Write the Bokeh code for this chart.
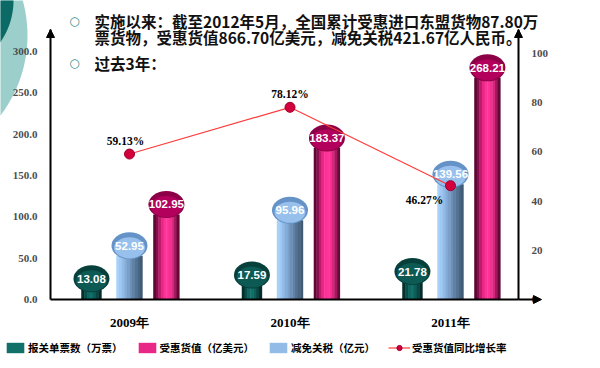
import numpy as np
from bokeh.plotting import figure
from bokeh.models import (Range1d, LinearAxis, FixedTicker, NumeralTickFormatter, Legend,
                          LegendItem, Label, Arrow, NormalHead, PolyAnnotation)
from bokeh.core.properties import value
from bokeh.embed import file_html
from bokeh.resources import INLINE

# ---------------- data ----------------
years = ["2009年", "2010年", "2011年"]
declarations = [13.08, 17.59, 21.78]        # 报关单票数（万票）
benefit_value = [102.95, 183.37, 268.21]    # 受惠货值（亿美元）
tariff_cut = [52.95, 95.96, 139.56]         # 减免关税（亿元）
growth_rate = [59.13, 78.12, 46.27]         # 受惠货值同比增长率 (%)
left_ticks = [0, 50, 100, 150, 200, 250, 300]
right_ticks = [0, 20, 40, 60, 80, 100]
series_names = ["报关单票数（万票）", "受惠货值（亿美元）", "减免关税（亿元）", "受惠货值同比增长率"]
headline = ["实施以来：截至2012年5月，全国累计受惠进口东盟货物87.80万",
            "票货物，受惠货值866.70亿美元，减免关税421.67亿人民币。",
            "过去3年："]

# ---------------- geometry (canvas pixels) ----------------
W, H = 600, 368
AXL, AXR, AXT, AXB = 50, 518, 29, 299   # axis lines: left x, right x, top y, zero line y
GX0, GPX = 129, 160.5                    # first group centre px, px per group
LPX, RPX = 0.8267, 2.46                  # px per unit, left / right axis


def dx(px):
    return (px - GX0) / GPX


def dy(py):
    return (AXB - py) / LPX


def ry(py):
    return (AXB - py) / RPX


p = figure(width=W, height=H, x_range=Range1d(dx(0), dx(W)), y_range=Range1d(dy(H), dy(0)),
           output_backend="svg", toolbar_location=None,
           min_border_left=0, min_border_right=0, min_border_top=0, min_border_bottom=0)
p.extra_y_ranges = {"rate": Range1d(ry(H), ry(0))}
p.xgrid.visible = False
p.ygrid.visible = False
p.outline_line_color = None
p.background_fill_color = "white"
p.border_fill_color = "white"

# decorative circles (slide background)
t = np.linspace(0, 2 * np.pi, 160)
for (cx, cy, r, col) in [(-105, 35, 132, "#9ccfcc"), (-60, 0, 73, "#0b6a66")]:
    p.add_layout(PolyAnnotation(xs=list(dx(cx + r * np.cos(t))), ys=list(dy(cy + r * np.sin(t))),
                                fill_color=col, fill_alpha=1, line_color=None, level="underlay"))

# ---------------- axes ----------------
tick_font = dict(major_label_text_font="Liberation Serif", major_label_text_font_style="bold",
                 major_label_text_font_size="11px", major_label_text_color="#4d4d4d",
                 major_tick_line_color=None, minor_tick_line_color=None,
                 axis_line_color="black", axis_line_width=2, major_label_standoff=7)
ya = p.yaxis[0]
ya.ticker = FixedTicker(ticks=left_ticks)
ya.formatter = NumeralTickFormatter(format="0.0")
ya.fixed_location = dx(AXL)
ya.bounds = (0, dy(AXT))
for k, v in tick_font.items():
    setattr(ya, k, v)

ra = LinearAxis(y_range_name="rate", ticker=FixedTicker(ticks=right_ticks),
                formatter=NumeralTickFormatter(format="0"), fixed_location=dx(AXR),
                bounds=(0, ry(AXT)), **tick_font)
p.add_layout(ra, "right")

xa = p.xaxis[0]
xa.ticker = FixedTicker(ticks=list(range(len(years))))
xa.major_label_overrides = {i: y for i, y in enumerate(years)}
xa.fixed_location = 0
xa.bounds = (dx(AXL), dx(AXR))
xa.major_label_text_font = "Liberation Serif"
xa.major_label_text_font_style = "bold"
xa.major_label_text_font_size = "13px"
xa.major_label_text_color = "black"
xa.major_tick_line_color = None
xa.minor_tick_line_color = None
xa.axis_line_color = "black"
xa.axis_line_width = 2
xa.major_label_standoff = 9

# axis arrows
head = dict(size=8, fill_color="black", line_color="black")
p.add_layout(Arrow(x_start=dx(AXL), y_start=dy(AXT + 4), x_end=dx(AXL), y_end=dy(AXT),
                   line_width=2, end=NormalHead(**head)))
p.add_layout(Arrow(x_start=dx(AXR), y_start=dy(AXT + 4), x_end=dx(AXR), y_end=dy(AXT),
                   line_width=2, end=NormalHead(**head)))
p.add_layout(Arrow(x_start=dx(AXR), y_start=0, x_end=dx(AXR + 23), y_end=0,
                   line_width=2, end=NormalHead(**head)))

# ---------------- cylinders ----------------
idx = np.arange(len(years))
series = [
    (declarations, -0.237, 20, ["#03302d", "#0a4f4a", "#0f6861", "#11706a", "#0d5f59", "#084743", "#042e2b"],
     ["#073f3b", "#0d5954"], 3),
    (tariff_cut, 0.0, 26, ["#a8d1fa", "#9fc8f2", "#93bbe8", "#86add9", "#7a9fca", "#6d90b9", "#6082a7",
                           "#547495", "#4a6784", "#405b75"],
     ["#6593c8", "#98c0ec"], 2),
    (benefit_value, 0.23, 26, ["#5a0733", "#860e4c", "#c01a6d", "#e92786", "#fc3396", "#ff3399", "#f42f90",
                               "#d6277c", "#a21a5c", "#650a38"],
     ["#8c0048", "#b3005c"], 3),
]
cap_w, cap_h, cap_dy = 36 / GPX, 27 / LPX, 12
legend_renderers = []
for vals, off, wpx, strips, caps, lk in series:
    w = wpx / GPX
    n = len(strips)
    rends = []
    for k, c in enumerate(strips):
        so = -w / 2 + (k + 0.5) * w / n
        rends.append(p.vbar(x=idx + off + so, top=vals, bottom=0, width=w / n * 1.15,
                            fill_color=c, line_color=None))
    legend_renderers.append(rends[lk])
    cy = np.array(vals) + cap_dy
    p.ellipse(x=idx + off, y=cy, width=cap_w, height=cap_h, fill_color=caps[0], line_color=None)
    p.ellipse(x=idx + off, y=cy - 2.5, width=cap_w * 0.86, height=cap_h * 0.78,
              fill_color=caps[1], line_color=None)
    p.text(x=idx + off, y=cy, text=[f"{v:.2f}" for v in vals], text_font=value("Liberation Sans"),
           text_font_style="bold", text_font_size="11.5px", text_color="white",
           text_align="center", text_baseline="middle")

# ---------------- growth line ----------------
ln = p.line(x=idx, y=growth_rate, y_range_name="rate", line_color="#ff3b3b", line_width=1.2)
sc = p.scatter(x=idx, y=growth_rate, y_range_name="rate", size=10, fill_color="#d4003d",
               line_color="#9a002c")
p.text(x=idx, y=growth_rate, y_range_name="rate", text=[f"{r:.2f}%" for r in growth_rate],
       x_offset=[-4, 0, -26], y_offset=[-13, -13, 14], text_font=value("Liberation Serif"),
       text_font_style="bold", text_font_size="11.5px", text_color="black",
       text_align="center", text_baseline="middle")

# ---------------- headline text ----------------
for txt, py in zip(headline, [20, 36, 62]):
    p.add_layout(Label(x=dx(94), y=dy(py), text=txt, text_font="Noto Sans CJK SC",
                       text_font_style="bold", text_font_size="15.5px", text_color="#111111",
                       text_baseline="middle"))
for py in [20, 62]:
    p.add_layout(Label(x=dx(74), y=dy(py), text="○", text_font="DejaVu Sans",
                       text_font_size="12px", text_color="#2e8b8b", text_align="center",
                       text_baseline="middle"))

# ---------------- legend ----------------
items = [LegendItem(label=series_names[0], renderers=[legend_renderers[0]]),
         LegendItem(label=series_names[1], renderers=[legend_renderers[2]]),
         LegendItem(label=series_names[2], renderers=[legend_renderers[1]]),
         LegendItem(label=series_names[3], renderers=[ln, sc])]
legend = Legend(items=items, orientation="horizontal", location=(4, 13),
                label_text_font="Noto Sans CJK SC", label_text_font_style="bold",
                label_text_font_size="10.5px", label_text_color="black",
                glyph_width=22, glyph_height=13, label_standoff=2, spacing=13,
                label_height=13, padding=0, margin=0, border_line_color=None,
                background_fill_alpha=0)
p.add_layout(legend)

open("out.html", "w").write(file_html(p, INLINE))
